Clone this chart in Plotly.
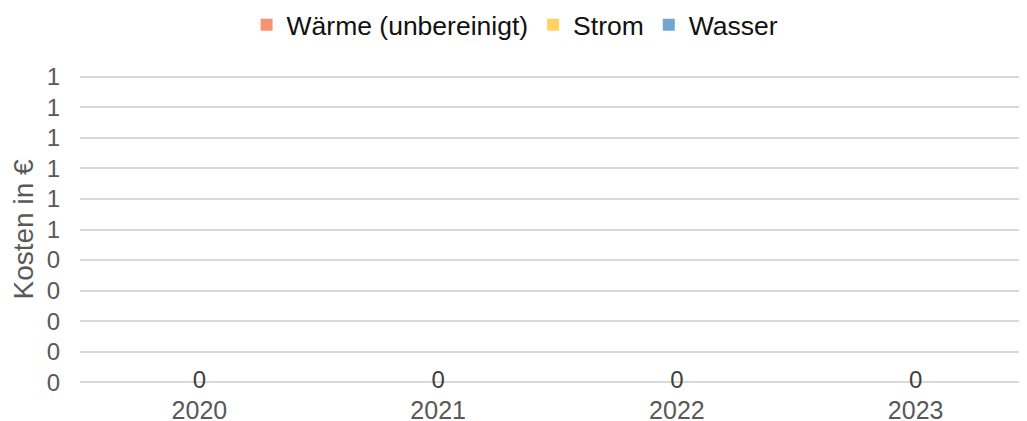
import plotly.graph_objects as go

years = ["2020", "2021", "2022", "2023"]
waerme = [0, 0, 0, 0]
strom = [0, 0, 0, 0]
wasser = [0, 0, 0, 0]
series_names = ["Wärme (unbereinigt)", "Strom", "Wasser"]
series_colors = ["#F79274", "#FFD35E", "#72A6CE"]
y_tickvals = [0, 0.1, 0.2, 0.3, 0.4, 0.5, 0.6, 0.7, 0.8, 0.9, 1.0]
y_ticktext = ["0", "0", "0", "0", "0", "1", "1", "1", "1", "1", "1"]

FONT = "Liberation Sans, Arial"

fig = go.Figure()
for name, vals, col in zip(series_names, [waerme, strom, wasser], series_colors):
    fig.add_trace(go.Bar(x=years, y=vals, name=name, marker_color=col, width=0.5,
                         marker_line_width=0))

totals = [a + b + c for a, b, c in zip(waerme, strom, wasser)]
fig.add_trace(go.Scatter(
    x=years, y=totals, mode="text", text=[f"{t:.0f}" for t in totals],
    textposition="middle center", showlegend=False, cliponaxis=False,
    textfont=dict(family=FONT, size=24, color="#404040"),
    hoverinfo="skip"))

fig.update_layout(
    width=1027, height=421,
    barmode="stack",
    paper_bgcolor="white", plot_bgcolor="white",
    margin=dict(l=72, r=0, t=67, b=45, autoexpand=False),
    font=dict(family=FONT, size=24, color="#595959"),
    legend=dict(orientation="h", x=0.2323, xanchor="left", xref="container",
                y=0.9596, yanchor="middle", yref="container",
                font=dict(family=FONT, size=26.5, color="#111111"),
                traceorder="normal", itemwidth=30),
    xaxis=dict(type="category", range=[-0.5, 3.5], showgrid=False, zeroline=False,
               showline=False, ticks="", automargin=False, ticklabelstandoff=9,
               tickfont=dict(family=FONT, size=25, color="#595959")),
    yaxis=dict(range=[-0.005, 1.005], tickvals=y_tickvals, ticktext=y_ticktext,
               showgrid=True, gridcolor="#D9D9D9", gridwidth=1.5, zeroline=False,
               automargin=False,
               tickfont=dict(family=FONT, size=24, color="#595959"),
               ticklabelstandoff=19,
               title=dict(text="Kosten in €", standoff=8,
                          font=dict(family=FONT, size=28, color="#595959"))),
)
fig.write_html("out.html")
